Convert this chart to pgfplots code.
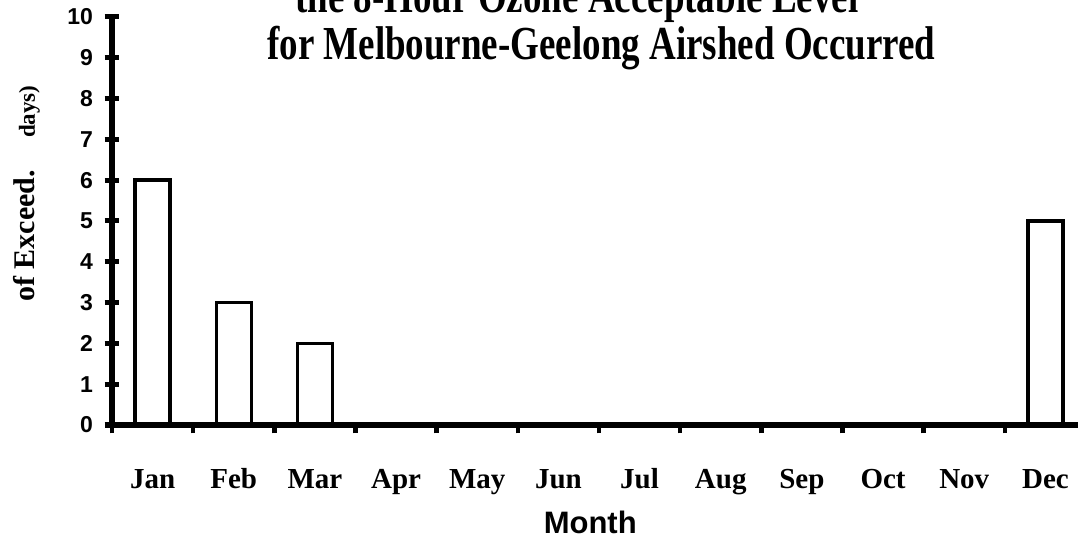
\documentclass[border=0pt]{standalone}
\usepackage{fontspec}
\setmainfont{Liberation Serif}
\newfontfamily\sansfam{Liberation Sans}
\usepackage{pgfplots}
\pgfplotsset{compat=1.18}
\begin{document}
\begin{tikzpicture}[x=1bp,y=1bp]
\begin{axis}[
  at={(112bp,116bp)}, anchor=south west,
  scale only axis, width=974bp, height=408bp,
  xmin=-0.5, xmax=11.5, ymin=0, ymax=10,
  axis lines=left, axis line style={line width=5bp, -},
  axis on top,
  ybar, bar width=35bp,
  xtick={0,...,11},
  xticklabels={Jan,Feb,Mar,Apr,May,Jun,Jul,Aug,Sep,Oct,Nov,Dec},
  major x tick style={draw=none},
  minor xtick={-0.5,0.5,...,11.5},
  minor x tick style={line width=4.5bp, yshift=-4bp, black},
  minor tick length=9bp,
  ytick={0,...,10},
  major tick length=15bp,
  tick align=center,
  major y tick style={line width=5bp, black},
  /pgf/number format/assume math mode=true,
  yticklabel style={font=\sansfam\bfseries\fontsize{23bp}{23bp}\selectfont, anchor=east, xshift=-8bp},
  xticklabel style={font=\bfseries\fontsize{29bp}{29bp}\selectfont, anchor=base, yshift=-56bp},
  xlabel={Month},
  xlabel style={font=\sansfam\bfseries\fontsize{31bp}{31bp}\selectfont, at={(axis description cs:0.491,0)}, anchor=base, yshift=-108bp},
  ylabel={of Exceed.\hspace{32bp}{\fontsize{23bp}{23bp}\selectfont days)}},
  ylabel style={font=\bfseries\fontsize{30bp}{30bp}\selectfont, at={(axis description cs:-0.0791,0.294)}, anchor=base west, rotate=0},
]
\addplot[fill=white, draw=black, line width=3.5bp]
  coordinates {(0,6) (1,3) (2,2) (3,0) (4,0) (5,0) (6,0) (7,0) (8,0) (9,0) (10,0) (11,5)};
\end{axis}
\node[anchor=base west, inner sep=0pt, font=\bfseries\fontsize{37bp}{37bp}\selectfont] at (295bp,528bp) {\scalebox{1}[1.28]{the 8-Hour Ozone Acceptable Level}};
\node[anchor=base west, inner sep=0pt, font=\bfseries\fontsize{37bp}{37bp}\selectfont] at (267bp,481bp) {\scalebox{1}[1.28]{for Melbourne-Geelong Airshed Occurred}};
\pgfresetboundingbox
\path[use as bounding box] (0,0) rectangle (1078bp,541bp);
\end{tikzpicture}
\end{document}
